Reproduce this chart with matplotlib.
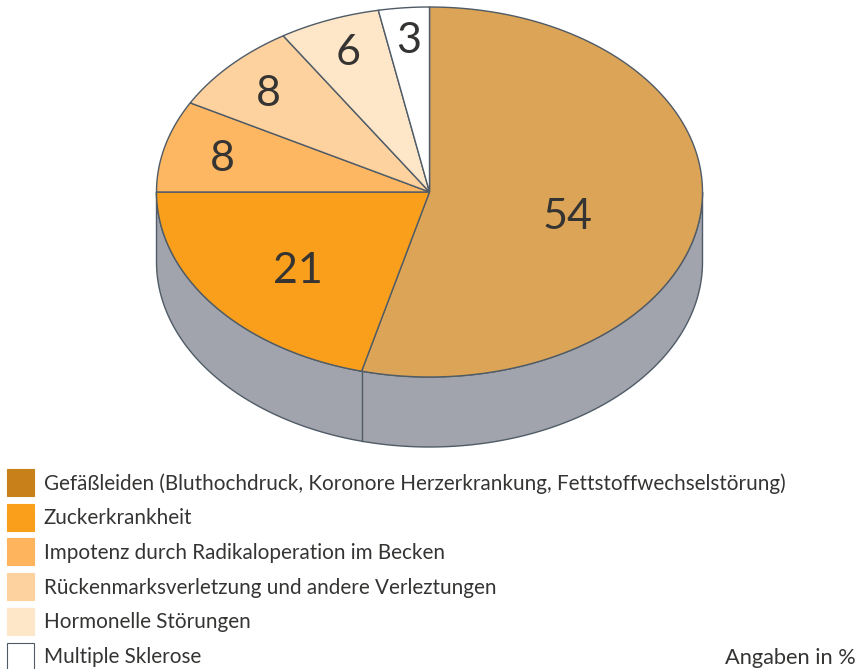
import numpy as np
import matplotlib
matplotlib.use('Agg')
import matplotlib.pyplot as plt
from matplotlib.patches import Polygon, Rectangle

plt.rcParams['font.family'] = ['Lato', 'DejaVu Sans']

# Werte in Prozent, im Uhrzeigersinn ab 12 Uhr
werte = [54, 21, 8, 8, 6, 3]
farben = ['#dba456', '#f99f1c', '#fdb762', '#fdd29f', '#fee6c9', '#ffffff']
legende_farben = ['#c8801a', '#f99f1c', '#fdb45c', '#fdd29f', '#fee6c9', '#ffffff']
legende = [
    'Gefäßleiden (Bluthochdruck, Koronore Herzerkrankung, Fettstoffwechselstörung)',
    'Zuckerkrankheit',
    'Impotenz durch Radikaloperation im Becken',
    'Rückenmarksverletzung und andere Verleztungen',
    'Hormonelle Störungen',
    'Multiple Sklerose',
]
label_pos = [(568, 217), (298, 271), (222, 159), (268, 94), (348, 53), (409, 41)]

cx, cy = 429.5, 192
rx, ry = 273, 185
tiefe = 70
linie = '#4f5b66'
mantel = '#a1a4ad'
schrift = '#353433'

fig = plt.figure(figsize=(8.61, 6.69), dpi=100)
ax = fig.add_axes([0, 0, 1, 1])
ax.set_xlim(0, 861)
ax.set_ylim(669, 0)
ax.axis('off')


def rand(a0, a1, dy=0):
    t = np.radians(np.linspace(a0, a1, 200))
    return np.column_stack([cx + rx * np.sin(t), cy + dy + ry * np.cos(t) * -1])


# Seitenwand (sichtbar von 3 Uhr bis 9 Uhr)
oben = rand(90, 270)
unten = rand(270, 90, tiefe)
ax.add_patch(Polygon(np.vstack([oben, unten]), closed=True, fc=mantel, ec=linie, lw=1.0, zorder=1))

# Segmente
kum = np.cumsum([0] + werte) / sum(werte) * 360
for i, w in enumerate(werte):
    pts = rand(kum[i], kum[i + 1])
    pts = np.vstack([[cx, cy], pts])
    ax.add_patch(Polygon(pts, closed=True, fc=farben[i], ec=linie, lw=1.0, zorder=2))
    ax.text(label_pos[i][0], label_pos[i][1], str(w), fontsize=31, color=schrift,
            ha='center', va='center', zorder=3)

# Kante zwischen den ersten beiden Segmenten auf der Wand
kante = rand(kum[1], kum[1])[0]
ax.plot([kante[0], kante[0]], [kante[1], kante[1] + tiefe], color=linie, lw=1.0, zorder=2)

# Legende
for i, text in enumerate(legende):
    y = 482 + i * 34.7
    rand_farbe = linie if i == 5 else legende_farben[i]
    ax.add_patch(Rectangle((7, y - 13), 27, 27, fc=legende_farben[i], ec=rand_farbe, lw=0.8))
    ax.text(44, y + 1.5, text, fontsize=14.9, color=schrift, va='center', ha='left')

ax.text(856, 657.5, 'Angaben in %', fontsize=15.7, color=schrift, va='center', ha='right')

fig.savefig('out.png', dpi=100)
